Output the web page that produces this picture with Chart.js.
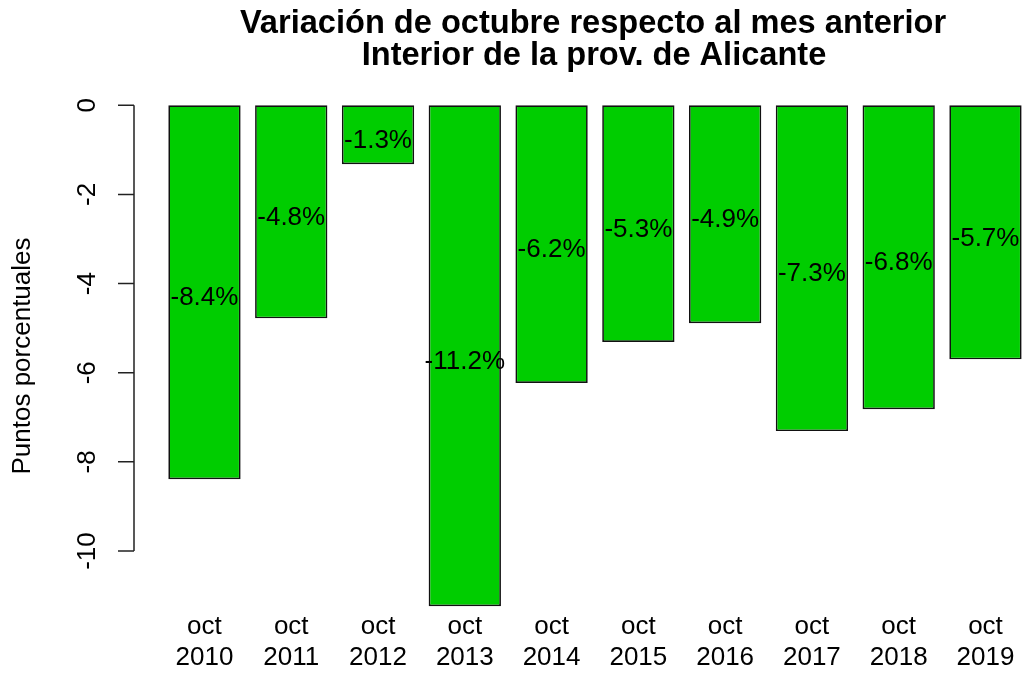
<!DOCTYPE html>
<html>
<head>
<meta charset="utf-8">
<script src="https://cdn.jsdelivr.net/npm/chart.js@4.4.0/dist/chart.umd.min.js"></script>
<style>
  html, body { margin: 0; padding: 0; background: #fff; overflow: hidden; }
</style>
</head>
<body>
<canvas id="chart" width="1024" height="674"></canvas>
<script>
// Chart data
const titleLines = ['Variación de octubre respecto al mes anterior', 'Interior de la prov. de Alicante'];
const yTitle = 'Puntos porcentuales';
const monthName = 'oct';
const years = ['2010', '2011', '2012', '2013', '2014', '2015', '2016', '2017', '2018', '2019'];
const changes = [-8.39, -4.78, -1.32, -11.24, -6.23, -5.31, -4.89, -7.31, -6.82, -5.70];
const yTicks = [0, -2, -4, -6, -8, -10];

const FONT = '"Liberation Sans", Arial, sans-serif';

// Draws title, R-style y axis and the value labels
const extras = {
  id: 'extras',
  afterDraw(chart) {
    const ctx = chart.ctx;
    const y = chart.scales.y;
    const axisX = chart.chartArea.left;
    ctx.save();
    ctx.fillStyle = '#000';

    // title
    ctx.font = 'bold 32.6px ' + FONT;
    ctx.textAlign = 'center';
    ctx.textBaseline = 'alphabetic';
    ctx.fillText(titleLines[0], 593, 33);
    ctx.fillText(titleLines[1], 594, 65);

    // y axis line + ticks
    ctx.strokeStyle = '#222';
    ctx.lineWidth = 1.5;
    ctx.beginPath();
    ctx.moveTo(axisX, y.getPixelForValue(yTicks[0]));
    ctx.lineTo(axisX, y.getPixelForValue(yTicks[yTicks.length - 1]));
    yTicks.forEach(v => {
      const py = y.getPixelForValue(v);
      ctx.moveTo(axisX - 16, py);
      ctx.lineTo(axisX, py);
    });
    ctx.stroke();

    // rotated tick labels
    ctx.font = '26px ' + FONT;
    ctx.textBaseline = 'middle';
    yTicks.forEach(v => {
      ctx.save();
      ctx.translate(88, y.getPixelForValue(v));
      ctx.rotate(-Math.PI / 2);
      ctx.fillText(String(v), 0, 0);
      ctx.restore();
    });

    // y title
    ctx.save();
    ctx.translate(23, 356);
    ctx.rotate(-Math.PI / 2);
    ctx.fillText(yTitle, 0, 0);
    ctx.restore();

    // value labels in the middle of each bar
    const meta = chart.getDatasetMeta(0);
    meta.data.forEach((bar, i) => {
      const py = y.getPixelForValue(changes[i] / 2) + 6;
      ctx.fillText(changes[i].toFixed(1) + '%', bar.x, py);
    });
    ctx.restore();
  }
};

const ctx = document.getElementById('chart').getContext('2d');

const chart = new Chart(ctx, {
  type: 'bar',
  data: {
    datasets: [{
      data: years.map((yr, i) => ({ x: i, y: changes[i] })),
      backgroundColor: '#00CD00',
      borderColor: '#111',
      borderWidth: 1.7,
      borderSkipped: false,
      barPercentage: 1 / 1.2,
      categoryPercentage: 1,
      clip: false
    }]
  },
  options: {
    responsive: false,
    animation: false,
    devicePixelRatio: 1,
    layout: { padding: { top: 85.2, bottom: 0, left: 0, right: 0 } },
    plugins: {
      legend: { display: false },
      title: { display: false },
      tooltip: { enabled: false }
    },
    scales: {
      x: {
        type: 'linear',
        min: -0.812,
        max: 9.444,
        offset: false,
        grid: { display: false, drawTicks: false },
        border: { display: false },
        afterBuildTicks: s => { s.ticks = years.map((yr, i) => ({ value: i })); },
        afterFit: s => { s.height = 64.6; },
        ticks: {
          autoSkip: false,
          maxRotation: 0,
          minRotation: 0,
          padding: 2,
          color: '#000',
          font: { size: 26, family: FONT, lineHeight: 1.2 },
          callback: v => [monthName, years[v]]
        }
      },
      y: {
        type: 'linear',
        min: -11.31,
        max: 0.451,
        grid: { display: false },
        border: { display: false },
        ticks: { display: false },
        afterFit: s => { s.width = 134; }
      }
    }
  },
  plugins: [extras]
});
</script>
</body>
</html>
